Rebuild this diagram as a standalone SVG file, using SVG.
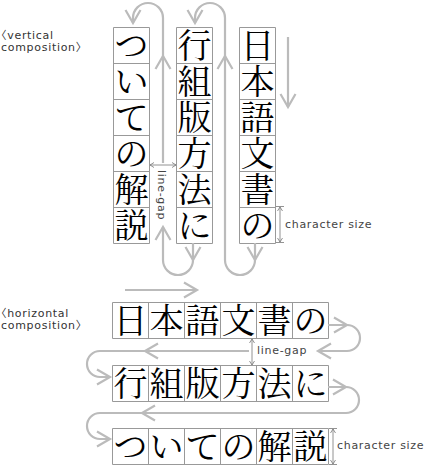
<svg xmlns="http://www.w3.org/2000/svg" xmlns:xlink="http://www.w3.org/1999/xlink" width="424" height="471" viewBox="0 0 424 471">
<style>
  .cell{fill:none;stroke:#999;stroke-width:1}
  .jp{font-family:"Noto Serif CJK JP","Noto Serif JP","IPAMincho","Noto Sans CJK JP",serif;font-size:34px;text-anchor:middle;fill:#000}
  .flow{fill:none;stroke:#bbb;stroke-width:2.2}
  .chev{fill:none;stroke:#bbb;stroke-width:2.2}
  .dim{fill:none;stroke:#777;stroke-width:0.8}
  .lbl{font-family:"DejaVu Sans","Noto Sans CJK JP",sans-serif;font-size:11px;letter-spacing:0.7px;fill:#444}
  .title{font-family:"DejaVu Sans","Noto Sans CJK JP",sans-serif;font-size:11px;letter-spacing:0.7px;fill:#333;font-feature-settings:"halt"}
</style>
<defs>
  <path id="chev" d="M-13,-7.5 L0,0 L-13,7.5"/>
  <marker id="dh" viewBox="-5 -3 6 6" markerWidth="6" markerHeight="6" refX="0" refY="0" orient="auto-start-reverse" markerUnits="userSpaceOnUse">
    <path d="M-4,-2.5 L0,0 L-4,2.5" fill="none" stroke="#777" stroke-width="0.8"/>
  </marker>
</defs>

<g id="labels">
  <text class="title" x="1" y="39">〈vertical</text>
  <text class="title" x="1" y="51">composition〉</text>
  <text class="title" x="1" y="316.5">〈horizontal</text>
  <text class="title" x="1" y="328.5">composition〉</text>
</g>

<!-- vertical composition columns -->
<g id="col-3">
  <path class="cell" d="M239.5,27.5 h36 v216 h-36 z M239.5,63.5 h36 M239.5,99.5 h36 M239.5,135.5 h36 M239.5,171.5 h36 M239.5,207.5 h36"/>
  <text class="jp" x="257.5 257.5 257.5 257.5 257.5 257.5" y="58 94 130 166 202 238">日本語文書の</text>
</g>
<g id="col-2">
  <path class="cell" d="M176.5,27.5 h36 v216 h-36 z M176.5,63.5 h36 M176.5,99.5 h36 M176.5,135.5 h36 M176.5,171.5 h36 M176.5,207.5 h36"/>
  <text class="jp" x="194.5 194.5 194.5 194.5 194.5 194.5" y="58 94 130 166 202 238">行組版方法に</text>
</g>
<g id="col-1">
  <path class="cell" d="M113.5,27.5 h36 v216 h-36 z M113.5,63.5 h36 M113.5,99.5 h36 M113.5,135.5 h36 M113.5,171.5 h36 M113.5,207.5 h36"/>
  <text class="jp" x="131.5 131.5 131.5 131.5 131.5 131.5" y="58 94 130 166 202 238">ついての解説</text>
</g>

<!-- horizontal composition rows -->
<g id="row-1">
  <path class="cell" d="M112.5,302.5 h216 v36 h-216 z M148.5,302.5 v36 M184.5,302.5 v36 M220.5,302.5 v36 M256.5,302.5 v36 M292.5,302.5 v36"/>
  <text class="jp" x="130.5 166.5 202.5 238.5 274.5 310.5" y="333">日本語文書の</text>
</g>
<g id="row-2">
  <path class="cell" d="M112.5,365.5 h216 v36 h-216 z M148.5,365.5 v36 M184.5,365.5 v36 M220.5,365.5 v36 M256.5,365.5 v36 M292.5,365.5 v36"/>
  <text class="jp" x="130.5 166.5 202.5 238.5 274.5 310.5" y="396">行組版方法に</text>
</g>
<g id="row-3">
  <path class="cell" d="M112.5,428.5 h216 v36 h-216 z M148.5,428.5 v36 M184.5,428.5 v36 M220.5,428.5 v36 M256.5,428.5 v36 M292.5,428.5 v36"/>
  <text class="jp" x="130.5 166.5 202.5 238.5 274.5 310.5" y="459">ついての解説</text>
</g>

<g id="connectors">
  <!-- vertical flow -->
  <path class="flow" d="M288,37 V107"/>
  <use xlink:href="#chev" class="chev" transform="translate(288,107) rotate(90)"/>
  <path class="flow" d="M255,243 V260 A15,15 0 0 1 225,260 V18 A15,15 0 0 0 195,18 V23"/>
  <use xlink:href="#chev" class="chev" transform="translate(255,260) rotate(90)"/>
  <use xlink:href="#chev" class="chev" transform="translate(225,56) rotate(-90)"/>
  <use xlink:href="#chev" class="chev" transform="translate(195,23) rotate(90)"/>
  <path class="flow" d="M193,243 V260 A15,15 0 0 1 163,260 V227"/>
  <path class="flow" d="M163,163 V18 A15,15 0 0 0 133,18 V23"/>
  <use xlink:href="#chev" class="chev" transform="translate(193,260) rotate(90)"/>
  <use xlink:href="#chev" class="chev" transform="translate(163,227) rotate(-90)"/>
  <use xlink:href="#chev" class="chev" transform="translate(163,56) rotate(-90)"/>
  <use xlink:href="#chev" class="chev" transform="translate(133,23) rotate(90)"/>

  <!-- horizontal flow -->
  <path class="flow" d="M125,290 H197"/>
  <use xlink:href="#chev" class="chev" transform="translate(197,290)"/>
  <path class="flow" d="M328,325 H347 A13,13 0 0 1 347,351 H318"/>
  <use xlink:href="#chev" class="chev" transform="translate(347,325)"/>
  <use xlink:href="#chev" class="chev" transform="translate(318,351) rotate(180)"/>
  <path class="flow" d="M249,351 H100 A13,13 0 0 0 100,377 H110"/>
  <use xlink:href="#chev" class="chev" transform="translate(145,351) rotate(180)"/>
  <use xlink:href="#chev" class="chev" transform="translate(110,377)"/>
  <path class="flow" d="M328,387 H346 A13,13 0 0 1 346,413 H100 A13,13 0 0 0 100,439 H110"/>
  <use xlink:href="#chev" class="chev" transform="translate(346,387)"/>
  <use xlink:href="#chev" class="chev" transform="translate(142,413) rotate(180)"/>
  <use xlink:href="#chev" class="chev" transform="translate(110,439)"/>
</g>

<g id="dimensions">
  <path class="dim" d="M150,165 H176" marker-start="url(#dh)" marker-end="url(#dh)"/>
  <text class="lbl" transform="translate(158,170) rotate(90)">line-gap</text>
  <path class="dim" d="M276,206.5 H284 M276,242.5 H284"/>
  <path class="dim" d="M280,207 V242" marker-start="url(#dh)" marker-end="url(#dh)"/>
  <text class="lbl" x="285" y="228">character size</text>
  <path class="dim" d="M252,339 V365" marker-start="url(#dh)" marker-end="url(#dh)"/>
  <text class="lbl" x="257" y="354">line-gap</text>
  <path class="dim" d="M329,428.5 H337 M329,464.5 H337"/>
  <path class="dim" d="M333,429 V464" marker-start="url(#dh)" marker-end="url(#dh)"/>
  <text class="lbl" x="337" y="449">character size</text>
</g>
</svg>
